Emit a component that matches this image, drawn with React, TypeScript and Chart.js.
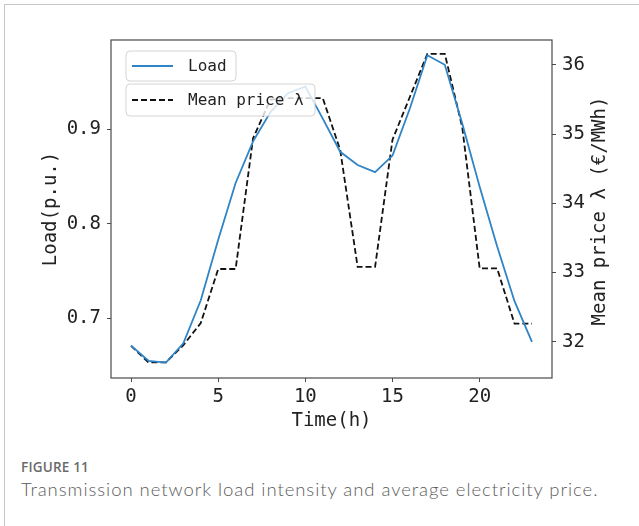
import React, { useEffect, useRef } from "react";
import { Chart, registerables } from "chart.js";

Chart.register(...registerables);

// Hourly profile over one day
const hours = [0, 1, 2, 3, 4, 5, 6, 7, 8, 9, 10, 11, 12, 13, 14, 15, 16, 17, 18, 19, 20, 21, 22, 23];
const load = [
  0.671, 0.655, 0.653, 0.6735, 0.719, 0.783, 0.843, 0.887, 0.918, 0.938, 0.945, 0.911,
  0.876, 0.862, 0.8545, 0.872, 0.922, 0.978, 0.968, 0.906, 0.839, 0.776, 0.718, 0.675,
];
const price = [
  31.94, 31.7, 31.7, 31.95, 32.27, 33.05, 33.05, 34.94, 35.5, 35.52, 35.52, 35.52,
  34.77, 33.08, 33.08, 34.92, 35.54, 36.16, 36.16, 35.1, 33.06, 33.06, 32.26, 32.26,
];
const hourTicks = [0, 5, 10, 15, 20];
const loadTicks = [0.7, 0.8, 0.9];
const priceTicks = [32, 33, 34, 35, 36];
const seriesLabels = ["Load", "Mean price λ"];
const axisTitles = { x: "Time(h)", y: "Load(p.u.)", y1: "Mean price λ (€/MWh)" };

const MONO = "'DejaVu Sans Mono', 'Liberation Mono', monospace";
const BLUE = "#2e84c6";
const INK = "#222";

const W = 639;
const H = 440;

const framePlugin = {
  id: "frame",
  afterDatasetsDraw(chart: any) {
    const { ctx, chartArea: a } = chart;
    ctx.save();
    // full box around the plot
    ctx.strokeStyle = "#4a4a4a";
    ctx.lineWidth = 1.2;
    ctx.strokeRect(a.left, a.top, a.right - a.left, a.bottom - a.top);

    // two stacked legend boxes, one per series
    const boxes = [
      { x: 126, y: 51, w: 110, h: 30 },
      { x: 126, y: 84, w: 189, h: 32 },
    ];
    chart.data.datasets.forEach((ds: any, i: number) => {
      const b = boxes[i];
      ctx.beginPath();
      ctx.roundRect(b.x, b.y, b.w, b.h, 4);
      ctx.fillStyle = "rgba(255,255,255,0.8)";
      ctx.fill();
      ctx.strokeStyle = "#d4d4d4";
      ctx.lineWidth = 1;
      ctx.stroke();
      const cy = b.y + b.h / 2;
      ctx.beginPath();
      ctx.setLineDash(ds.borderDash || []);
      ctx.strokeStyle = ds.borderColor;
      ctx.lineWidth = ds.borderWidth;
      ctx.moveTo(b.x + 6, cy);
      ctx.lineTo(b.x + 47, cy);
      ctx.stroke();
      ctx.setLineDash([]);
      ctx.fillStyle = INK;
      ctx.font = `16px ${MONO}`;
      ctx.textAlign = "left";
      ctx.textBaseline = "middle";
      ctx.fillText(ds.label, b.x + 62, cy + 1);
    });
    ctx.restore();
  },
  afterDraw(chart: any) {
    const { ctx, chartArea: a } = chart;
    ctx.save();
    ctx.fillStyle = INK;
    ctx.font = `19px ${MONO}`;
    ctx.textAlign = "center";
    ctx.textBaseline = "middle";
    const midY = (a.top + a.bottom) / 2;
    // bottom title
    ctx.fillText(axisTitles.x, (a.left + a.right) / 2, 421);
    // left title, reading upward
    ctx.save();
    ctx.translate(51, midY);
    ctx.rotate(-Math.PI / 2);
    ctx.fillText(axisTitles.y, 0, 0);
    ctx.restore();
    // right title, also reading upward
    ctx.save();
    ctx.translate(600, midY + 2);
    ctx.rotate(-Math.PI / 2);
    ctx.fillText(axisTitles.y1, 0, 0);
    ctx.restore();
    ctx.restore();
  },
};

function fixedTicks(values: number[]) {
  return (scale: any) => {
    scale.ticks = values.map((v) => ({ value: v }));
  };
}

export default function App() {
  const canvasRef = useRef<HTMLCanvasElement | null>(null);

  useEffect(() => {
    if (!canvasRef.current) return;
    const tickFont = { family: MONO, size: 19 };
    const gridTicks = {
      display: true,
      drawOnChartArea: false,
      drawTicks: true,
      tickLength: 4,
      tickColor: "#4a4a4a",
      tickWidth: 1,
    };
    const chart = new Chart(canvasRef.current, {
      type: "line",
      data: {
        datasets: [
          {
            label: seriesLabels[0],
            data: hours.map((h, i) => ({ x: h, y: load[i] })),
            yAxisID: "y",
            borderColor: BLUE,
            borderWidth: 1.8,
            pointRadius: 0,
            fill: false,
            tension: 0,
          },
          {
            label: seriesLabels[1],
            data: hours.map((h, i) => ({ x: h, y: price[i] })),
            yAxisID: "y1",
            borderColor: "#111",
            borderWidth: 1.8,
            borderDash: [6, 3],
            pointRadius: 0,
            fill: false,
            tension: 0,
          },
        ],
      },
      options: {
        animation: false,
        responsive: false,
        maintainAspectRatio: false,
        devicePixelRatio: 1,
        layout: { padding: { top: 40, left: 0, right: 0, bottom: 0 } },
        plugins: {
          legend: { display: false },
          tooltip: { enabled: false },
          title: { display: false },
        },
        scales: {
          x: {
            type: "linear",
            min: -1.15,
            max: 24.15,
            afterBuildTicks: fixedTicks(hourTicks),
            afterFit: (s: any) => {
              s.height = H - 378;
            },
            grid: gridTicks,
            border: { display: false },
            ticks: {
              font: tickFont,
              color: INK,
              padding: 4,
              maxRotation: 0,
              autoSkip: false,
              callback: (v: any) => String(v),
            },
          },
          y: {
            type: "linear",
            position: "left",
            min: 0.6368,
            max: 0.9942,
            afterBuildTicks: fixedTicks(loadTicks),
            afterFit: (s: any) => {
              s.width = 111;
            },
            grid: gridTicks,
            border: { display: false },
            ticks: {
              font: tickFont,
              color: INK,
              padding: 6,
              callback: (v: any) => Number(v).toFixed(1),
            },
          },
          y1: {
            type: "linear",
            position: "right",
            min: 31.475,
            max: 36.36,
            afterBuildTicks: fixedTicks(priceTicks),
            afterFit: (s: any) => {
              s.width = W - 552;
            },
            grid: gridTicks,
            border: { display: false },
            ticks: {
              font: tickFont,
              color: INK,
              padding: 6,
              callback: (v: any) => String(Math.round(Number(v))),
            },
          },
        },
      },
      plugins: [framePlugin],
    } as any);
    return () => chart.destroy();
  }, []);

  return (
    <div
      style={{
        position: "absolute",
        left: 0,
        top: 0,
        width: W,
        height: 526,
        background: "#fff",
        overflow: "hidden",
      }}
    >
      <div
        style={{
          position: "absolute",
          left: 4,
          top: 4,
          width: W,
          height: 526,
          borderLeft: "1px solid #c6c6c6",
          borderTop: "1px solid #c6c6c6",
        }}
      />
      <canvas
        ref={canvasRef}
        width={W}
        height={H}
        style={{ position: "absolute", left: 0, top: 0, width: W, height: H }}
      />
      <div
        style={{
          position: "absolute",
          left: 21,
          top: 459,
          fontFamily: "'Open Sans', Lato, sans-serif",
          fontSize: 13.5,
          fontWeight: 600,
          color: "#6a6a6a",
          letterSpacing: 0.2,
          lineHeight: "16px",
          whiteSpace: "nowrap",
        }}
      >
        FIGURE 11
      </div>
      <div
        style={{
          position: "absolute",
          left: 21,
          top: 477,
          fontFamily: "Lato, 'Open Sans', sans-serif",
          fontSize: 18.5,
          fontWeight: 300,
          color: "#5c5c5c",
          letterSpacing: 0.95,
          lineHeight: "24px",
          whiteSpace: "nowrap",
        }}
      >
        Transmission network load intensity and average electricity price.
      </div>
    </div>
  );
}
